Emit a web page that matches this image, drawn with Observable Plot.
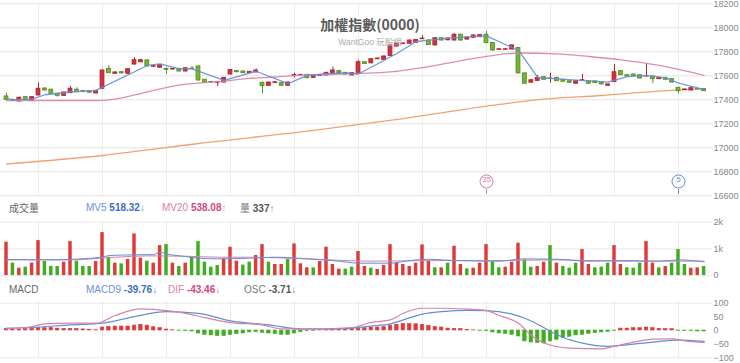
<!DOCTYPE html>
<html><head><meta charset="utf-8">
<script src="https://cdn.jsdelivr.net/npm/d3@7"></script>
<script src="https://cdn.jsdelivr.net/npm/@observablehq/plot@0.6"></script>
<style>
body{margin:0;background:#fff;}
#wrap{position:relative;width:740px;height:363px;overflow:hidden;font-family:"Liberation Sans",Arial,"Noto Sans CJK TC",sans-serif;}
#wrap svg{position:absolute;left:0;overflow:visible;}
.hdr{position:absolute;font-size:10px;line-height:12px;white-space:nowrap;}
.hdr b{font-weight:bold;}
.cjk{font-family:"Noto Sans CJK TC",sans-serif;}
</style></head><body><div id="wrap"></div>
<script>
// ---- candles (OHLC) ----
const open  = [17428,17400,17386,17422,17389,17436,17494,17484,17450,17433,17455,17484,17472,17470,17453,17492,17658,17617,17630,17617,17694,17713,17728,17675,17667,17658,17653,17658,17636,17660,17678,17567,17548,17542,17544,17611,17639,17636,17622,17628,17542,17517,17540,17539,17517,17600,17603,17608,17583,17600,17603,17622,17639,17625,17603,17617,17713,17704,17738,17733,17765,17844,17865,17867,17875,17905,17894,17853,17913,17896,17894,17942,17902,17917,17922,17942,17873,17817,17817,17819,17832,17620,17543,17558,17589,17574,17583,17567,17555,17534,17559,17555,17553,17544,17517,17547,17639,17605,17611,17605,17594,17594,17572,17583,17572,17500,17482,17478,17491,17489];
const high  = [17455,17405,17422,17425,17426,17539,17500,17488,17455,17464,17511,17500,17476,17473,17478,17650,17686,17632,17634,17660,17750,17738,17733,17686,17692,17664,17662,17662,17666,17678,17682,17570,17553,17550,17586,17652,17645,17640,17636,17658,17546,17548,17552,17542,17548,17622,17614,17612,17604,17608,17628,17672,17645,17628,17625,17728,17717,17742,17748,17765,17856,17870,17874,17898,17902,17934,17898,17917,17917,17915,17950,17946,17922,17940,17942,17969,17876,17826,17826,17858,17836,17624,17567,17603,17592,17622,17587,17570,17558,17558,17611,17558,17556,17547,17531,17694,17642,17608,17614,17608,17700,17598,17586,17586,17576,17504,17492,17500,17495,17492];
const low   = [17392,17385,17382,17392,17385,17432,17474,17446,17422,17430,17452,17460,17460,17455,17450,17488,17618,17614,17616,17614,17690,17710,17674,17670,17664,17611,17648,17632,17632,17652,17556,17540,17540,17511,17540,17606,17626,17618,17618,17625,17450,17513,17536,17514,17514,17583,17598,17576,17580,17596,17600,17618,17618,17608,17600,17614,17696,17700,17735,17730,17760,17840,17862,17863,17872,17902,17853,17850,17890,17892,17890,17890,17898,17913,17918,17868,17806,17812,17812,17815,17616,17530,17540,17555,17564,17538,17552,17546,17538,17530,17555,17530,17536,17524,17510,17544,17602,17591,17594,17574,17590,17534,17569,17563,17540,17450,17478,17475,17484,17470];
const close = [17400,17390,17417,17395,17422,17492,17478,17450,17433,17461,17492,17464,17464,17459,17475,17644,17622,17628,17620,17655,17730,17730,17678,17680,17689,17650,17657,17636,17663,17655,17561,17544,17544,17546,17583,17648,17630,17622,17633,17644,17514,17544,17546,17517,17544,17606,17606,17580,17600,17604,17625,17644,17622,17611,17622,17713,17699,17738,17744,17761,17853,17867,17869,17894,17898,17910,17856,17913,17894,17911,17942,17894,17919,17936,17939,17872,17811,17821,17821,17853,17620,17534,17563,17583,17567,17577,17555,17550,17542,17555,17563,17534,17539,17528,17528,17630,17605,17594,17597,17578,17597,17572,17583,17567,17544,17472,17486,17497,17488,17472];

// ---- price moving averages (vertices) ----
const ma5Bars  = [0,1,4,6,10,14,22,24,27,29,34,39,44,47,50,53,55,58,61,64,68,73,75,80,83,86,94,97,100,103,105,108,109];
const ma5Vals  = [17411,17400,17405,17442,17465,17478,17686,17700,17658,17658,17561,17638,17534,17603,17617,17622,17615,17700,17786,17886,17908,17928,17933,17811,17586,17575,17547,17594,17603,17583,17539,17500,17483];
const ma20Bars = [0,14,28,34,38,42,46,50,55,60,65,70,75,80,86,91,96,102,109];
const ma20Vals = [17394,17394,17530,17556,17578,17590,17606,17611,17620,17632,17668,17716,17762,17790,17783,17761,17733,17686,17603];
const longBars = [0,15,30,48,62,77,82,93,104,109];
const longVals = [16865,16936,17036,17145,17244,17361,17395,17436,17478,17490];

// ---- volume ----
const volume = [1248,462,275,312,462,1310,524,337,337,500,
1273,537,337,337,524,1610,686,462,437,600,
1560,649,537,462,1123,1160,462,337,462,686,
1273,500,312,374,624,1060,537,390,500,749,
1160,500,412,412,600,1186,437,287,287,524,
1061,412,237,237,312,899,337,275,225,374,
1160,462,412,337,462,1148,537,287,287,462,
1098,412,250,275,462,1160,510,290,312,500,
1211,587,312,337,500,1123,462,337,275,462,
973,412,287,312,462,1123,412,287,275,462,
1273,462,287,337,462,973,412,275,287,337];
const volDir = "rgrgrrgggrrgggrrgrgrrrgrrgrgrgggggrrrggrrgrrgrrrgrrrrggrrgrrrrrrrrrgrgrrgrrrggrrrggrrgrgggrrgggrrgggrrgrgggrrgg";
const mv5Bars  = [0,7,15,16,20,23,24,25,28,30,33,38,42,47,52,55,60,63,66,70,77,81,86,91,96,102,105,109];
const mv5Vals  = [600,590,686,750,775,786,874,811,711,650,624,650,686,624,537,462,462,561,611,561,537,624,611,537,561,537,587,518];
const mv20Bars = [0,10,17,22,28,33,38,47,57,68,77,86,96,109];
const mv20Vals = [587,587,686,736,724,686,686,624,537,561,561,587,537,538];

// ---- MACD ----
const osc = [6,4,4,5,6,8.5,8.5,10,7,6, 6,5,4,2.5,1,11,13,14.6,14.6,14.6, 18,20.7,18,12,8.5,3.6,1,-1,-2.4,-3.6,
 -11,-16,-18,-20.7,-20.7,-16,-13,-11,-7,-6, -8.5,-11,-13,-16,-16,-11,-6,-2.4,-1,0.5, 1,2.4,3.6,3.6,5,6,8.5,
 11,11,13,18,20.7,24,24,23,20.7,17, 13,11,7,6,5,2.4,0.5,-1,-2.4,-7, -11,-12,-16,-22,-40,-44,-46,-47.5,-40,-34,
 -28,-23,-18,-16,-12,-10,-7,-5,-1,7, 7,8.5,8.5,11,8.5,6,5,5,-1,-2,-2.4,-3.6,-3.71];
const macdBars = [0,4,10,15,20,25,30,35,41,46,51,57,60,62,65,68,72,75,79,81,83,85,87,90,94,98,101,105,109];
const macdVals = [8.5,11,20.7,26.8,51,69,63,35,20.7,6,5,16,24,39,60,69,74,73,60,45,23,-3.6,-25.6,-46,-58,-50,-42.6,-35,-39.76];
const difBars  = [0,4,6,10,14,17,21,25,28,31,35,40,43,48,54,57,60,62,65,68,72,75,77,79,80,82,84,88,93,95,98,101,104,106,109];
const difVals  = [6,14.6,24,26.8,26.8,55,79,73,63,47,29,20.7,6,6,11,30,39,63,81.5,81.5,78,73,55,39,27,-18,-46,-64.5,-67,-58,-42.6,-31.6,-30.4,-37.7,-43.46];

// ---- header readouts (as printed on the chart) ----
const volHeader  = [["MV5","518.32","↓"],["MV20","538.08","↑"],["量","337","↑"]];
const macdHeader = [["MACD9","-39.76","↓"],["DIF","-43.46","↓"],["OSC","-3.71","↓"]];

// ---- ticks / markers ----
const priceTicks = [16600,16800,17000,17200,17400,17600,17800,18000,18200];
const volTicks = [0,1000,2000];
const macdTicks = [-100,-50,0,50,100];
const gridBars = [5,15,25,35,45,55,65,75,85,95,105];
const markerBars = [75,105];
const markerLabels = ["35","5"];

// ---- build ----
const RED="#d32f3c", REDS="#b3232f", GRN="#75b52f", GRNS="#57901f";
const VRED="#de3a3a", VGRN="#3fad22";
const BLUE="#5f8fd8", PINK="#d781a8", ORANGE="#f0a274";
const xOpt = {domain:[0,109], range:[6,703.6], axis:null};
const n = open.length;
const candles = d3.range(n).map(i=>({i,o:open[i],h:high[i],l:low[i],c:close[i]}));
const up = d => d.c >= d.o;
const pts = (b,v) => b.map((x,k)=>({i:x,v:v[k]}));
const markers = markerBars.map((b,k)=>({i:b,label:markerLabels[k],color:k===0?PINK:BLUE}));
const common = {width:740, marginLeft:0, marginRight:28,
  style:{fontFamily:"'Liberation Sans',Arial,sans-serif", color:"#888", background:"transparent", overflow:"visible"}};
const axisOpt = {anchor:"right", tickSize:0, tickPadding:1, fontSize:9, textAnchor:"start", label:null};

const price = Plot.plot({...common, height:196, marginTop:3, marginBottom:0,
  x:xOpt, y:{domain:[16600,18200], range:[195.3,3.3], axis:null, label:null},
  marks:[
    Plot.gridY(priceTicks,{stroke:"#e4e4e4", strokeOpacity:1}),
    Plot.ruleX(gridBars,{stroke:"#ececec"}),
    Plot.axisY(priceTicks,{...axisOpt, tickFormat:"d", dy:0.5}),
    Plot.line(pts(longBars,longVals),{x:"i",y:"v",stroke:ORANGE,strokeWidth:1.3,curve:"monotone-x"}),
    Plot.ruleX(candles,{x:"i",y1:"l",y2:"h",stroke:d=>up(d)?REDS:GRNS,strokeWidth:1}),
    Plot.rect(candles,{x1:d=>d.i-0.3,x2:d=>d.i+0.3,y1:"o",y2:"c",fill:d=>up(d)?RED:GRN,stroke:d=>up(d)?REDS:GRNS,strokeWidth:0.9}),
    Plot.line(pts(ma20Bars,ma20Vals),{x:"i",y:"v",stroke:PINK,strokeWidth:1.3,curve:"monotone-x",strokeOpacity:0.9}),
    Plot.line(pts(ma5Bars,ma5Vals),{x:"i",y:"v",stroke:BLUE,strokeWidth:1.3,strokeOpacity:0.9}),
    Plot.ruleX(markers,{x:"i",stroke:"color",insetTop:186,insetBottom:2}),
    Plot.dot(markers,{x:"i",frameAnchor:"bottom",dy:-15,r:6.5,stroke:"color",fill:"white",strokeWidth:1}),
    Plot.text(markers,{x:"i",text:"label",frameAnchor:"bottom",dy:-15,fill:"color",fontSize:8})
  ]});
price.style.top="0px";

const vols = volume.map((v,i)=>({i,v,r:volDir[i]==="r"}));
const vol = Plot.plot({...common, height:82, marginTop:24, marginBottom:3,
  x:xOpt, y:{domain:[0,2000], range:[79,25.7], axis:null, label:null},
  marks:[
    Plot.gridY(volTicks,{stroke:"#e8e8e8", strokeOpacity:1}),
    Plot.ruleX(gridBars,{stroke:"#ececec"}),
    Plot.axisY(volTicks,{...axisOpt, tickFormat:d=>d===0?"0":(d/1000)+"k"}),
    Plot.rect(vols,{x1:d=>d.i-0.27,x2:d=>d.i+0.27,y1:0,y2:"v",fill:d=>d.r?VRED:VGRN}),
    Plot.line(pts(mv20Bars,mv20Vals),{x:"i",y:"v",stroke:PINK,strokeWidth:1,curve:"monotone-x"}),
    Plot.line(pts(mv5Bars,mv5Vals),{x:"i",y:"v",stroke:BLUE,strokeWidth:1,curve:"monotone-x"})
  ]});
vol.style.top="196px";

const oscs = osc.map((v,i)=>({i,v}));
const macd = Plot.plot({...common, height:85, marginTop:22, marginBottom:5,
  x:xOpt, y:{domain:[-100,100], range:[79.3,24.7], axis:null, label:null},
  marks:[
    Plot.gridY([-100,100],{stroke:"#e8e8e8", strokeOpacity:1}),
    Plot.ruleX(gridBars,{stroke:"#ececec"}),
    Plot.axisY(macdTicks,{...axisOpt, tickFormat:"d"}),
    Plot.rect(oscs,{x1:d=>d.i-0.27,x2:d=>d.i+0.27,y1:0,y2:"v",fill:d=>d.v>=0?VRED:VGRN,stroke:d=>d.v>=0?VRED:VGRN,strokeWidth:0.6}),
    Plot.line(pts(macdBars,macdVals),{x:"i",y:"v",stroke:BLUE,strokeWidth:1.2,curve:"monotone-x"}),
    Plot.line(pts(difBars,difVals),{x:"i",y:"v",stroke:PINK,strokeWidth:1.2,curve:"monotone-x"})
  ]});
macd.style.top="278px";

const wrap = document.getElementById("wrap");
wrap.append(price, vol, macd);
const hdrColors = [["#6b8fd8","#3e6cc4"],["#e07ca6","#d2487f"],["#777","#555"]];
const hdrLeft = [[86,162,240],[86,168,244]];
const hdrHtml = (rows, lefts, top) => rows.map((r,k)=>
  `<div class="hdr" style="left:${lefts[k]}px;top:${top}px;color:${hdrColors[k][0]};"><span class="${/[^\x00-\x7f]/.test(r[0])?'cjk':''}">${r[0]}</span> <b style="color:${hdrColors[k][1]}">${r[1]}</b>${r[2]}</div>`).join("");
wrap.insertAdjacentHTML("beforeend", `
<div class="hdr cjk" style="left:0;width:740px;text-align:center;top:15px;font-size:14px;line-height:18px;color:#5a5a5a;font-weight:bold;">加權指數(0000)</div>
<div class="hdr" style="left:0;width:740px;text-align:center;top:35px;font-size:8.5px;color:#aaa;">WantGoo <span class="cjk">玩股網</span></div>
<div class="hdr cjk" style="left:9px;top:202px;color:#666;">成交量</div>
<div class="hdr" style="left:9px;top:284px;color:#666;">MACD</div>
${hdrHtml(volHeader, hdrLeft[0], 202)}
${hdrHtml(macdHeader, hdrLeft[1], 284)}
`);
</script></body></html>
